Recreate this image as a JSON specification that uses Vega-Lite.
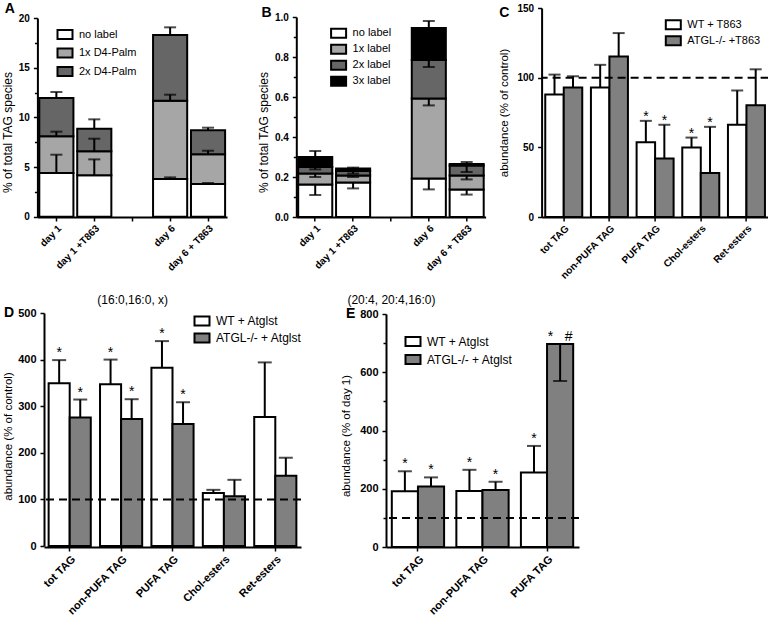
{
  "$schema": "https://vega.github.io/schema/vega-lite/v6.json",
  "padding": {"left": 1, "top": 2, "right": 0, "bottom": 0},
  "background": "white",
  "config": {
    "font": "Liberation Sans",
    "view": {"stroke": null},
    "axis": {"domainColor": "#000", "domainWidth": 2, "tickColor": "#000", "tickWidth": 1.5, "tickSize": 4, "labelColor": "#000", "labelFont": "Liberation Sans", "labelFontWeight": "bold", "labelFontSize": 10, "titleFont": "Liberation Sans", "titleFontWeight": "normal", "titleFontSize": 11.5, "titleColor": "#000", "grid": false, "labelPadding": 2},
    "axisY": {"labelPadding": 4},
    "axisX": {"labelAngle": -45},
    "legend": {"title": null, "orient": "none", "symbolType": "M-1.25,-0.75H1.25V0.75H-1.25Z", "symbolSize": 144, "symbolStrokeColor": "#000", "symbolStrokeWidth": 2, "labelFont": "Liberation Sans", "labelFontSize": 11, "labelColor": "#000", "labelOffset": 7, "rowPadding": 0, "padding": 0},
    "title": {"anchor": "start", "frame": "group", "fontSize": 14, "fontWeight": "bold", "color": "#000", "font": "Liberation Sans"}
  },
  "spacing": 0,
  "resolve": {"scale": {"fill": "independent", "xOffset": "independent"}, "legend": {"fill": "independent"}},
  "vconcat": [
    {
      "bounds": "flush",
      "spacing": 55.3,
      "resolve": {"scale": {"fill": "independent", "xOffset": "independent"}, "legend": {"fill": "independent"}},
      "hconcat": [
        {
          "width": 196.4, "height": 209,
          "title": {"text": "A", "dx": -39.3, "dy": 12},
          "data": {"values": [
            {"cond": "day 1", "label": "no label", "order": 1, "value": 4.4, "sd": 1.84},
            {"cond": "day 1", "label": "1x D4-Palm", "order": 2, "value": 3.69, "sd": 0.47},
            {"cond": "day 1", "label": "2x D4-Palm", "order": 3, "value": 3.86, "sd": 0.6},
            {"cond": "day 1 +T863", "label": "no label", "order": 1, "value": 4.16, "sd": 1.61},
            {"cond": "day 1 +T863", "label": "1x D4-Palm", "order": 2, "value": 2.42, "sd": 1.27},
            {"cond": "day 1 +T863", "label": "2x D4-Palm", "order": 3, "value": 2.28, "sd": 0.94},
            {"cond": "day 6", "label": "no label", "order": 1, "value": 3.79, "sd": 0.17},
            {"cond": "day 6", "label": "1x D4-Palm", "order": 2, "value": 7.89, "sd": 0.6},
            {"cond": "day 6", "label": "2x D4-Palm", "order": 3, "value": 6.62, "sd": 0.76},
            {"cond": "day 6 + T863", "label": "no label", "order": 1, "value": 3.29, "sd": 0.1},
            {"cond": "day 6 + T863", "label": "1x D4-Palm", "order": 2, "value": 2.99, "sd": 0.36},
            {"cond": "day 6 + T863", "label": "2x D4-Palm", "order": 3, "value": 2.41, "sd": 0.27}
          ]},
          "resolve": {"scale": {"y": "independent"}},
          "layer": [
            {
              "transform": [
                {"stack": "value", "groupby": ["cond"], "sort": [{"field": "order", "order": "ascending"}], "as": ["v0", "v1"]},
                {"calculate": "datum.v1 + datum.sd", "as": "e"}
              ],
              "layer": [
                {
                  "mark": {"type": "bar", "stroke": "#000", "strokeWidth": 2},
                  "encoding": {
                    "x": {"field": "cond", "type": "nominal", "scale": {"domain": ["day 1", "day 1 +T863", " ", "day 6", "day 6 + T863"], "range": [-6.6, 183], "paddingInner": 0.1, "paddingOuter": 0.05}, "axis": {"title": "(16:0,16:0, x)", "titleFontSize": 12, "titlePadding": 22}},
                    "y": {"field": "v0", "type": "quantitative", "scale": {"domain": [0, 20], "range": [208.7, 10], "nice": false}, "axis": {"values": [0, 5, 10, 15, 20], "title": "% of total TAG species", "titleFontSize": 12, "titleY": 124, "offset": 6.6}},
                    "y2": {"field": "v1"},
                    "fill": {"field": "label", "type": "nominal", "scale": {"domain": ["no label", "1x D4-Palm", "2x D4-Palm"], "range": ["#ffffff", "#a6a6a6", "#666666"]}, "legend": {"legendX": 14, "legendY": 19.5, "rowPadding": 0.5}}
                  }
                },
                {
                  "mark": {"type": "rule", "strokeWidth": 2, "color": "#000"},
                  "encoding": {
                    "x": {"field": "cond", "type": "nominal"},
                    "y": {"field": "v1", "type": "quantitative", "title": "% of total TAG species"},
                    "y2": {"field": "e"}
                  }
                },
                {
                  "mark": {"type": "tick", "thickness": 2, "size": 12, "color": "#000"},
                  "encoding": {
                    "x": {"field": "cond", "type": "nominal"},
                    "y": {"field": "e", "type": "quantitative", "title": "% of total TAG species"}
                  }
                }
              ]
            },
            {
              "data": {"values": [{"m": 0}]},
              "mark": {"type": "point", "opacity": 0},
              "encoding": {
                "y": {"field": "m", "type": "quantitative", "scale": {"domain": [0, 20], "range": [208.7, 10], "nice": false}, "axis": {"orient": "left", "values": [2.5, 7.5, 12.5, 17.5], "labels": false, "domain": false, "title": null, "tickSize": 3, "offset": 6.6}}
              }
            }
          ]
        },
        {
          "width": 189.3, "height": 209,
          "title": {"text": "B", "dx": -34.7, "dy": 15.5},
          "data": {"values": [
            {"cond": "day 1", "label": "no label", "order": 1, "value": 0.163, "sd": -0.053},
            {"cond": "day 1", "label": "1x label", "order": 2, "value": 0.055, "sd": -0.018},
            {"cond": "day 1", "label": "2x label", "order": 3, "value": 0.032, "sd": -0.012},
            {"cond": "day 1", "label": "3x label", "order": 4, "value": 0.05, "sd": 0.03},
            {"cond": "day 1 +T863", "label": "no label", "order": 1, "value": 0.172, "sd": -0.029},
            {"cond": "day 1 +T863", "label": "1x label", "order": 2, "value": 0.036, "sd": -0.008},
            {"cond": "day 1 +T863", "label": "2x label", "order": 3, "value": 0.022, "sd": -0.013},
            {"cond": "day 1 +T863", "label": "3x label", "order": 4, "value": 0.013, "sd": 0.004},
            {"cond": "day 6", "label": "no label", "order": 1, "value": 0.192, "sd": -0.054},
            {"cond": "day 6", "label": "1x label", "order": 2, "value": 0.4, "sd": -0.034},
            {"cond": "day 6", "label": "2x label", "order": 3, "value": 0.193, "sd": -0.035},
            {"cond": "day 6", "label": "3x label", "order": 4, "value": 0.16, "sd": 0.035},
            {"cond": "day 6 + T863", "label": "no label", "order": 1, "value": 0.137, "sd": -0.025},
            {"cond": "day 6 + T863", "label": "1x label", "order": 2, "value": 0.07, "sd": -0.019},
            {"cond": "day 6 + T863", "label": "2x label", "order": 3, "value": 0.05, "sd": -0.032},
            {"cond": "day 6 + T863", "label": "3x label", "order": 4, "value": 0.008, "sd": 0.01}
          ]},
          "resolve": {"scale": {"y": "independent"}},
          "layer": [
            {
              "transform": [
                {"stack": "value", "groupby": ["cond"], "sort": [{"field": "order", "order": "ascending"}], "as": ["v0", "v1"]},
                {"calculate": "datum.v1 + datum.sd", "as": "e"}
              ],
              "layer": [
                {
                  "mark": {"type": "bar", "stroke": "#000", "strokeWidth": 2},
                  "encoding": {
                    "x": {"field": "cond", "type": "nominal", "scale": {"domain": ["day 1", "day 1 +T863", " ", "day 6", "day 6 + T863"], "paddingInner": 0.1, "paddingOuter": 0.05}, "axis": {"title": "(20:4, 20:4,16:0)", "titleFontSize": 12, "titlePadding": 22}},
                    "y": {"field": "v0", "type": "quantitative", "scale": {"domain": [0, 1], "range": [209, 9], "nice": false}, "axis": {"values": [0, 0.2, 0.4, 0.6, 0.8, 1.0], "format": ".1f", "title": "% of total TAG species", "titleFontSize": 12, "titleY": 124}},
                    "y2": {"field": "v1"},
                    "fill": {"field": "label", "type": "nominal", "scale": {"domain": ["no label", "1x label", "2x label", "3x label"], "range": ["#ffffff", "#a6a6a6", "#666666", "#000000"]}, "legend": {"legendX": 35.3, "legendY": 18.3, "rowPadding": -2}}
                  }
                },
                {
                  "mark": {"type": "rule", "strokeWidth": 2, "color": "#000"},
                  "encoding": {
                    "x": {"field": "cond", "type": "nominal"},
                    "y": {"field": "v1", "type": "quantitative", "title": "% of total TAG species"},
                    "y2": {"field": "e"}
                  }
                },
                {
                  "mark": {"type": "tick", "thickness": 2, "size": 12, "color": "#000"},
                  "encoding": {
                    "x": {"field": "cond", "type": "nominal"},
                    "y": {"field": "e", "type": "quantitative", "title": "% of total TAG species"}
                  }
                }
              ]
            },
            {
              "data": {"values": [{"m": 0}]},
              "mark": {"type": "point", "opacity": 0},
              "encoding": {
                "y": {"field": "m", "type": "quantitative", "scale": {"domain": [0, 1], "range": [209, 9], "nice": false}, "axis": {"orient": "left", "values": [0.1, 0.3, 0.5, 0.7, 0.9], "labels": false, "domain": false, "title": null, "tickSize": 3}}
              }
            }
          ]
        },
        {
          "width": 227, "height": 209,
          "title": {"text": "C", "dx": -42.3, "dy": 21},
          "data": {"values": [
            {"cat": "tot TAG", "grp": "WT + T863", "value": 87.9, "sd": 14.3, "sig": ""},
            {"cat": "tot TAG", "grp": "ATGL-/- +T863", "value": 93, "sd": 8, "sig": ""},
            {"cat": "non-PUFA TAG", "grp": "WT + T863", "value": 93, "sd": 16.2, "sig": ""},
            {"cat": "non-PUFA TAG", "grp": "ATGL-/- +T863", "value": 115.2, "sd": 16.8, "sig": ""},
            {"cat": "PUFA TAG", "grp": "WT + T863", "value": 53.6, "sd": 15.4, "sig": "*"},
            {"cat": "PUFA TAG", "grp": "ATGL-/- +T863", "value": 42, "sd": 24.2, "sig": "*"},
            {"cat": "Chol-esters", "grp": "WT + T863", "value": 49.8, "sd": 7.2, "sig": "*"},
            {"cat": "Chol-esters", "grp": "ATGL-/- +T863", "value": 31.6, "sd": 33.1, "sig": "*"},
            {"cat": "Ret-esters", "grp": "WT + T863", "value": 66.2, "sd": 24.6, "sig": ""},
            {"cat": "Ret-esters", "grp": "ATGL-/- +T863", "value": 80.2, "sd": 25.8, "sig": ""}
          ]},
          "transform": [{"calculate": "datum.value + datum.sd", "as": "e"}],
          "layer": [
            {
              "mark": {"type": "bar", "stroke": "#000", "strokeWidth": 2},
              "encoding": {
                "x": {"field": "cat", "type": "nominal", "sort": null, "scale": {"domain": ["tot TAG", "non-PUFA TAG", "PUFA TAG", "Chol-esters", "Ret-esters"], "paddingInner": 0.19, "paddingOuter": 0.08}, "axis": {"title": null}},
                "xOffset": {"field": "grp", "type": "nominal", "scale": {"domain": ["WT + T863", "ATGL-/- +T863"]}},
                "y": {"field": "value", "type": "quantitative", "scale": {"domain": [0, 150], "range": [209, 0], "nice": false}, "axis": {"values": [0, 50, 100, 150], "title": "abundance (% of control)", "titlePadding": 7}},
                "fill": {"field": "grp", "type": "nominal", "scale": {"domain": ["WT + T863", "ATGL-/- +T863"], "range": ["#ffffff", "#808080"]}, "legend": {"legendX": 124.7, "legendY": 9.7, "rowPadding": -3}}
              }
            },
            {
              "mark": {"type": "rule", "strokeWidth": 2, "color": "#000"},
              "encoding": {
                "x": {"field": "cat", "type": "nominal"},
                "xOffset": {"field": "grp", "type": "nominal"},
                "y": {"field": "value", "type": "quantitative", "title": "abundance (% of control)"},
                "y2": {"field": "e"}
              }
            },
            {
              "mark": {"type": "tick", "thickness": 2, "size": 12, "color": "#000"},
              "encoding": {
                "x": {"field": "cat", "type": "nominal"},
                "xOffset": {"field": "grp", "type": "nominal"},
                "y": {"field": "e", "type": "quantitative", "title": "abundance (% of control)"}
              }
            },
            {
              "data": {"values": [{"ref": 100}]},
              "mark": {"type": "rule", "strokeWidth": 2, "strokeDash": [8, 5], "color": "#000"},
              "encoding": {"y": {"field": "ref", "type": "quantitative", "title": "abundance (% of control)"}}
            },
            {
              "mark": {"type": "text", "fontSize": 14, "baseline": "alphabetic", "dy": 0, "color": "#000"},
              "encoding": {
                "x": {"field": "cat", "type": "nominal"},
                "xOffset": {"field": "grp", "type": "nominal"},
                "y": {"field": "e", "type": "quantitative", "title": "abundance (% of control)"},
                "text": {"field": "sig"}
              }
            }
          ]
        }
      ]
    },
    {
      "bounds": "flush",
      "spacing": 85,
      "resolve": {"scale": {"fill": "independent", "xOffset": "independent"}, "legend": {"fill": "independent"}},
      "hconcat": [
        {
          "width": 257, "height": 234,
          "title": {"text": "D", "dx": -40, "dy": 17},
          "data": {"values": [
            {"cat": "tot TAG", "grp": "WT + Atglst", "value": 349.4, "sd": 49.5, "sig": "*"},
            {"cat": "tot TAG", "grp": "ATGL-/- + Atglst", "value": 275.5, "sd": 38.8, "sig": "*"},
            {"cat": "non-PUFA TAG", "grp": "WT + Atglst", "value": 347.2, "sd": 52.8, "sig": "*"},
            {"cat": "non-PUFA TAG", "grp": "ATGL-/- + Atglst", "value": 272.6, "sd": 42.4, "sig": "*"},
            {"cat": "PUFA TAG", "grp": "WT + Atglst", "value": 382.4, "sd": 57.3, "sig": "*"},
            {"cat": "PUFA TAG", "grp": "ATGL-/- + Atglst", "value": 261.8, "sd": 46.7, "sig": "*"},
            {"cat": "Chol-esters", "grp": "WT + Atglst", "value": 114, "sd": 6.5, "sig": ""},
            {"cat": "Chol-esters", "grp": "ATGL-/- + Atglst", "value": 107, "sd": 35, "sig": ""},
            {"cat": "Ret-esters", "grp": "WT + Atglst", "value": 277, "sd": 117, "sig": ""},
            {"cat": "Ret-esters", "grp": "ATGL-/- + Atglst", "value": 150.6, "sd": 38.8, "sig": ""}
          ]},
          "transform": [{"calculate": "datum.value + datum.sd", "as": "e"}],
          "layer": [
            {
              "mark": {"type": "bar", "stroke": "#000", "strokeWidth": 2},
              "encoding": {
                "x": {"field": "cat", "type": "nominal", "sort": null, "scale": {"domain": ["tot TAG", "non-PUFA TAG", "PUFA TAG", "Chol-esters", "Ret-esters"], "paddingInner": 0.18, "paddingOuter": 0.09}, "axis": {"title": null, "labelFontSize": 11}},
                "xOffset": {"field": "grp", "type": "nominal", "scale": {"domain": ["WT + Atglst", "ATGL-/- + Atglst"]}},
                "y": {"field": "value", "type": "quantitative", "scale": {"domain": [0, 500], "range": [233, 0], "nice": false}, "axis": {"values": [0, 100, 200, 300, 400, 500], "title": "abundance (% of control)", "titleFontSize": 11.5, "labelFontSize": 11, "titleY": 123}},
                "fill": {"field": "grp", "type": "nominal", "scale": {"domain": ["WT + Atglst", "ATGL-/- + Atglst"], "range": ["#ffffff", "#808080"]}, "legend": {"legendX": 151, "legendY": 1, "rowPadding": -1, "labelFontSize": 12}}
              }
            },
            {
              "mark": {"type": "rule", "strokeWidth": 2, "color": "#000"},
              "encoding": {
                "x": {"field": "cat", "type": "nominal"},
                "xOffset": {"field": "grp", "type": "nominal"},
                "y": {"field": "value", "type": "quantitative", "title": "abundance (% of control)"},
                "y2": {"field": "e"}
              }
            },
            {
              "mark": {"type": "tick", "thickness": 2, "size": 14, "color": "#000"},
              "encoding": {
                "x": {"field": "cat", "type": "nominal"},
                "xOffset": {"field": "grp", "type": "nominal"},
                "y": {"field": "e", "type": "quantitative", "title": "abundance (% of control)"}
              }
            },
            {
              "data": {"values": [{"ref": 100}]},
              "mark": {"type": "rule", "strokeWidth": 2, "strokeDash": [8, 5], "color": "#000"},
              "encoding": {"y": {"field": "ref", "type": "quantitative", "title": "abundance (% of control)"}}
            },
            {
              "mark": {"type": "text", "fontSize": 14, "baseline": "alphabetic", "dy": -3, "color": "#000"},
              "encoding": {
                "x": {"field": "cat", "type": "nominal"},
                "xOffset": {"field": "grp", "type": "nominal"},
                "y": {"field": "e", "type": "quantitative", "title": "abundance (% of control)"},
                "text": {"field": "sig"}
              }
            }
          ]
        },
        {
          "width": 193, "height": 234,
          "title": {"text": "E", "dx": -40, "dy": 17},
          "data": {"values": [
            {"cat": "tot TAG", "grp": "WT + Atglst", "value": 191, "sd": 69, "sig": "*"},
            {"cat": "tot TAG", "grp": "ATGL-/- + Atglst", "value": 208, "sd": 31, "sig": "*"},
            {"cat": "non-PUFA TAG", "grp": "WT + Atglst", "value": 192, "sd": 73, "sig": "*"},
            {"cat": "non-PUFA TAG", "grp": "ATGL-/- + Atglst", "value": 195.4, "sd": 28.6, "sig": "*"},
            {"cat": "PUFA TAG", "grp": "WT + Atglst", "value": 256, "sd": 91, "sig": "*"},
            {"cat": "PUFA TAG", "grp": "ATGL-/- + Atglst", "value": 697, "sd": -127, "sig": "*\u00a0\u00a0\u00a0#"}
          ]},
          "resolve": {"scale": {"y": "independent"}},
          "layer": [
            {
              "transform": [
                {"calculate": "datum.value + datum.sd", "as": "e"},
                {"calculate": "max(datum.value, datum.e)", "as": "top"}
              ],
              "layer": [
                {
                  "mark": {"type": "bar", "stroke": "#000", "strokeWidth": 2},
                  "encoding": {
                    "x": {"field": "cat", "type": "nominal", "sort": null, "scale": {"domain": ["tot TAG", "non-PUFA TAG", "PUFA TAG"], "paddingInner": 0.19, "paddingOuter": 0.09}, "axis": {"title": null, "labelFontSize": 11}},
                    "xOffset": {"field": "grp", "type": "nominal", "scale": {"domain": ["WT + Atglst", "ATGL-/- + Atglst"]}},
                    "y": {"field": "value", "type": "quantitative", "scale": {"domain": [0, 800], "range": [234, 1], "nice": false}, "axis": {"values": [0, 200, 400, 600, 800], "title": "abundance (% of day 1)", "titleFontSize": 11.5, "labelFontSize": 11, "titleY": 122.5, "titlePadding": 8}},
                    "fill": {"field": "grp", "type": "nominal", "scale": {"domain": ["WT + Atglst", "ATGL-/- + Atglst"], "range": ["#ffffff", "#808080"]}, "legend": {"legendX": 20, "legendY": 21.5, "rowPadding": 0, "labelFontSize": 12}}
                  }
                },
                {
                  "mark": {"type": "rule", "strokeWidth": 2, "color": "#000"},
                  "encoding": {
                    "x": {"field": "cat", "type": "nominal"},
                    "xOffset": {"field": "grp", "type": "nominal"},
                    "y": {"field": "value", "type": "quantitative", "title": "abundance (% of day 1)"},
                    "y2": {"field": "e"}
                  }
                },
                {
                  "mark": {"type": "tick", "thickness": 2, "size": 14, "color": "#000"},
                  "encoding": {
                    "x": {"field": "cat", "type": "nominal"},
                    "xOffset": {"field": "grp", "type": "nominal"},
                    "y": {"field": "e", "type": "quantitative", "title": "abundance (% of day 1)"}
                  }
                },
                {
                  "data": {"values": [{"ref": 100}]},
                  "mark": {"type": "rule", "strokeWidth": 2, "strokeDash": [8, 5], "color": "#000"},
                  "encoding": {"y": {"field": "ref", "type": "quantitative", "title": "abundance (% of day 1)"}}
                },
                {
                  "mark": {"type": "text", "fontSize": 14, "baseline": "alphabetic", "dy": -3, "color": "#000"},
                  "encoding": {
                    "x": {"field": "cat", "type": "nominal"},
                    "xOffset": {"field": "grp", "type": "nominal"},
                    "y": {"field": "top", "type": "quantitative", "title": "abundance (% of day 1)"},
                    "text": {"field": "sig"}
                  }
                }
              ]
            },
            {
              "data": {"values": [{"m": 0}]},
              "mark": {"type": "point", "opacity": 0},
              "encoding": {
                "y": {"field": "m", "type": "quantitative", "scale": {"domain": [0, 800], "range": [234, 1], "nice": false}, "axis": {"orient": "left", "values": [100, 300, 500, 700], "labels": false, "domain": false, "title": null, "tickSize": 3}}
              }
            }
          ]
        }
      ]
    }
  ]
}
